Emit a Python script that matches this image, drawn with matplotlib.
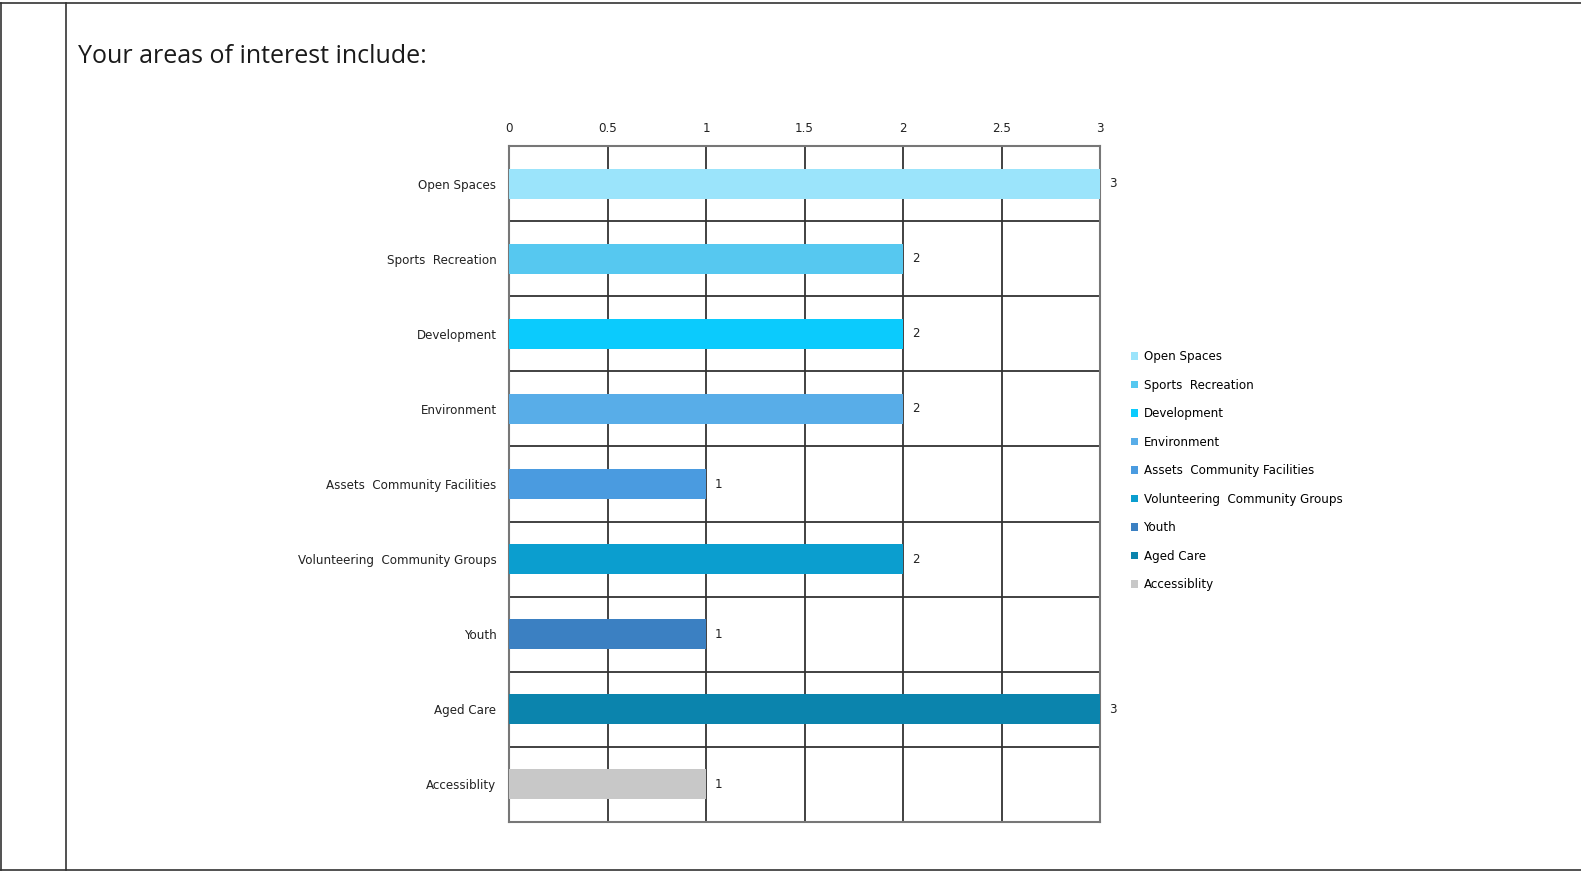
import matplotlib
matplotlib.use("Agg")
import matplotlib.pyplot as plt
from matplotlib.lines import Line2D
from matplotlib.patches import Patch

categories = ["Open Spaces", "Sports  Recreation", "Development", "Environment",
              "Assets  Community Facilities", "Volunteering  Community Groups",
              "Youth", "Aged Care", "Accessiblity"]
values = [3, 2, 2, 2, 1, 2, 1, 3, 1]
colors = ["#9be4fb", "#56c8f0", "#0bcbfd", "#58ade8", "#4a9be0",
          "#0b9ecf", "#3b80c2", "#0b84ad", "#c8c8c8"]
xticks = [0, 0.5, 1, 1.5, 2, 2.5, 3]
xticklabels = ["0", "0.5", "1", "1.5", "2", "2.5", "3"]
title = "Your areas of interest include:"

W, H = 1581, 872
fig = plt.figure(figsize=(W / 100, H / 100), dpi=100)

def fx(px): return px / W
def fy(py): return 1 - py / H
for (x0, y0, x1, y1) in [(0, 3, W, 3), (1, 3, 1, 870), (66, 3, 66, 870), (0, 870, W, 870)]:
    fig.add_artist(Line2D([fx(x0), fx(x1)], [fy(y0), fy(y1)], color="#333333", lw=1.2))

fig.text(fx(78), fy(56), title, fontsize=18, family="Open Sans", va="center", ha="left", color="#1a1a1a")

fs = 8.6
ax = fig.add_axes([fx(509), fy(822), fx(1100) - fx(509), fy(146) - fy(822)])
ypos = list(range(len(categories)))
ax.barh(ypos, values, height=0.4, color=colors, zorder=3)
ax.set_xlim(0, 3)
ax.set_ylim(len(categories) - 0.5, -0.5)
ax.set_yticks(ypos)
ax.set_yticklabels(categories, fontsize=fs, color="#222222")
ax.set_xticks(xticks)
ax.set_xticklabels(xticklabels, fontsize=fs, color="#222222")
ax.xaxis.tick_top()
ax.tick_params(axis="x", length=0, pad=8)
ax.tick_params(axis="y", length=0, pad=9)
for xv in xticks[1:-1]:
    ax.axvline(xv, color="#333333", lw=1.3, zorder=1)
for i in range(len(categories) - 1):
    ax.axhline(i + 0.5, color="#333333", lw=1.3, zorder=1)
for s in ax.spines.values():
    s.set_color("#777777")
    s.set_linewidth(1.5)
for y, v in zip(ypos, values):
    ax.text(v + 0.045, y, str(v), fontsize=fs, va="center", ha="left", color="#222222")

handles = [Patch(facecolor=c, edgecolor="none") for c in colors]
fig.legend(handles, categories, loc="upper left", bbox_to_anchor=(fx(1131), fy(350)),
           frameon=False, fontsize=fs, handlelength=0.6, handleheight=0.6,
           handletextpad=0.45, labelspacing=1.3, borderpad=0, borderaxespad=0)

fig.savefig("out.png", dpi=100)
